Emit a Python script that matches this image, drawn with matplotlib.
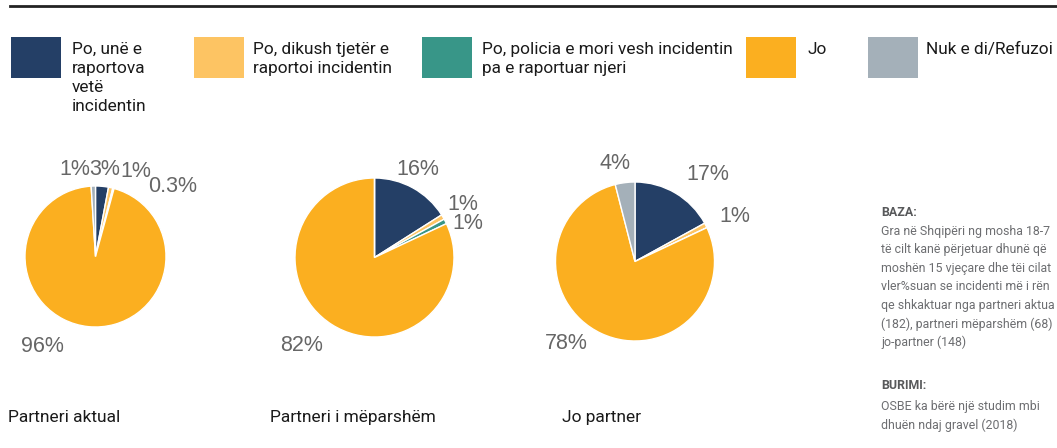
import matplotlib
matplotlib.use("Agg")
import matplotlib.pyplot as plt
from matplotlib.patches import Rectangle
from matplotlib.lines import Line2D

# ---------------------------------------------------------------------------
#   DATA
# ---------------------------------------------------------------------------
categories = ["Po, unë e\nraportova\nvetë\nincidentin",
              "Po, dikush tjetër e\nraportoi incidentin",
              "Po, policia e mori vesh incidentin\npa e raportuar njeri",
              "Jo",
              "Nuk e di/Refuzoi"]
groups = ["Partneri aktual", "Partneri i mëparshëm", "Jo partner"]
partner_actual = [3, 1, 0.3, 96, 1]
partner_former = [16, 1, 1, 82, 0]
non_partner = [17, 1, 0, 78, 4]
note_base = ["Gra në Shqipëri ng mosha 18-7",
             "të cilt kanë përjetuar dhunë që",
             "moshën 15 vjeçare dhe tëi cilat",
             "vler%suan se incidenti më i rën",
             "qe shkaktuar nga partneri aktua",
             "(182), partneri mëparshëm (68)",
             "jo-partner (148)"]
note_source = ["OSBE ka bërë një studim mbi",
               "dhuën ndaj gravel (2018)"]

# ---------------------------------------------------------------------------
#   STYLE
# ---------------------------------------------------------------------------
colors = ["#243f66", "#fdc463", "#389688", "#fbaf20", "#a4b0b9"]
cond = ["Roboto", "DejaVu Sans"]
W, H = 1057, 448

# pie centre (px from top-left), radius px, label offsets in radius units
pie_geom = [(95.5, 256.5, 70.5), (374.5, 257.5, 79.5), (635, 261.5, 79.5)]
label_pos = [
    [(0.13, 1.24), (0.57, 1.21), (1.10, 0.99), (-0.75, -1.28), (-0.30, 1.24)],
    [(0.55, 1.11), (1.11, 0.67), (1.17, 0.43), (-0.92, -1.11), None],
    [(0.91, 1.10), (1.25, 0.57), None, (-0.86, -1.03), (-0.25, 1.23)],
]
title_x = [8, 270, 562]
legend_x = [11, 194, 422, 746, 868]
legend_tx = [72, 253, 482, 808, 926]


def fx(x):
    return x / W


def fy(y):
    return 1 - y / H


fig = plt.figure(figsize=(W / 100, H / 100), dpi=100)
fig.patch.set_facecolor("white")

# top rule
fig.add_artist(Line2D([fx(10), 1], [fy(6), fy(6)], lw=2, color="#222222"))

# legend
for i, lab in enumerate(categories):
    fig.add_artist(Rectangle((fx(legend_x[i]), fy(78)), 50 / W, 41 / H,
                             transform=fig.transFigure, color=colors[i], lw=0))
    fig.text(fx(legend_tx[i]), fy(42), lab, ha="left", va="top",
             fontsize=12.4, family=cond, color="#1a1a1a", linespacing=1.32)

# pies
K = 1.8
for g, vals in enumerate([partner_actual, partner_former, non_partner]):
    cx, cy, r = pie_geom[g]
    ax = fig.add_axes([fx(cx - r * K), fy(cy + r * K), 2 * r * K / W,
                       2 * r * K / H])
    ax.pie(vals, colors=colors, startangle=90, counterclock=False,
           wedgeprops=dict(edgecolor="white", linewidth=1))
    ax.set_xlim(-K, K)
    ax.set_ylim(-K, K)
    ax.axis("off")
    for i, v in enumerate(vals):
        if v == 0 or label_pos[g][i] is None:
            continue
        px, py = label_pos[g][i]
        ax.text(px, py, f"{v:g}%", ha="center", va="center", fontsize=15.5,
                family=["Liberation Sans", "DejaVu Sans"], color="#666666",
                clip_on=False)
    fig.text(fx(title_x[g]), fy(417), groups[g], ha="left", va="center",
             fontsize=12.5, family=cond, color="#1a1a1a")

# notes
fs_note = 8.9
fig.text(fx(881), fy(212), "BAZA:", ha="left", va="center", fontsize=fs_note,
         family=cond, weight="bold", color="#58595b")
for j, line in enumerate(note_base):
    fig.text(fx(881), fy(231 + j * 18.6), line, ha="left", va="center",
             fontsize=fs_note, family=cond, color="#6d6e71")
fig.text(fx(881), fy(385), "BURIMI:", ha="left", va="center",
         fontsize=fs_note, family=cond, weight="bold", color="#58595b")
for j, line in enumerate(note_source):
    fig.text(fx(881), fy(406 + j * 19), line, ha="left", va="center",
             fontsize=fs_note, family=cond, color="#6d6e71")

fig.savefig("out.png", dpi=100)
